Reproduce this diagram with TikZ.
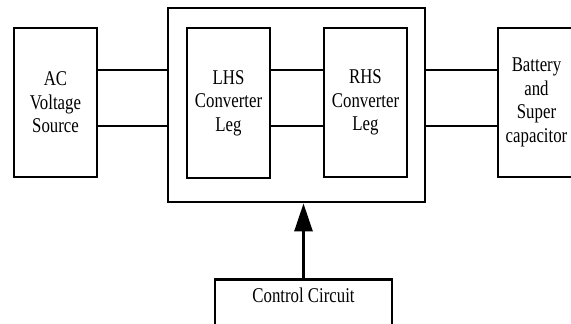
\documentclass[tikz,border=0pt]{standalone}
\usepackage{fontspec}
\setmainfont{Liberation Serif}[FakeStretch=0.8]
\usetikzlibrary{arrows.meta}
\begin{document}
\begin{tikzpicture}[x=1pt,y=-1pt,
  blk/.style={draw,line width=2.8pt,inner sep=0pt,align=center,
    font=\fontsize{21}{23.5}\selectfont},
  wire/.style={line width=2.8pt},
  ctl/.style={line width=2.8pt,-{Triangle[length=28pt,width=18pt]}}]
\useasboundingbox (0,0) rectangle (571,324);
\clip (0,0) rectangle (571,324);
\node[blk,minimum width=83pt,minimum height=149pt] (ac) at (55.5,102.5) {AC\\Voltage\\Source};
\node[blk,minimum width=257pt,minimum height=194pt] (outer) at (296.5,105) {};
\node[blk,minimum width=83pt,minimum height=150pt] (lhs) at (228.5,103) {LHS\\Converter\\Leg};
\node[blk,minimum width=83pt,minimum height=149pt] (rhs) at (365.5,102.5) {RHS\\Converter\\Leg};
\node[blk,minimum width=77pt,minimum height=149pt] (bat) at (536.5,102.5) {Battery\\and\\Super\\capacitor};
\node[blk,anchor=north,minimum width=177pt,text height=23pt,text depth=50pt] (ctrl) at (303.5,278) {Control Circuit};
\foreach \s in {32.5,-23.5}{
  \draw[wire] ([yshift=\s pt]ac.east) -- ([yshift=\s pt]ac.east -| outer.west);
  \draw[wire] ([yshift=\s pt]ac.east -| lhs.east) -- ([yshift=\s pt]ac.east -| rhs.west);
  \draw[wire] ([yshift=\s pt]ac.east -| outer.east) -- ([yshift=\s pt]ac.east -| bat.west);
}
\draw[ctl] (ctrl.north) -- (ctrl.north |- outer.south);
\end{tikzpicture}
\end{document}
